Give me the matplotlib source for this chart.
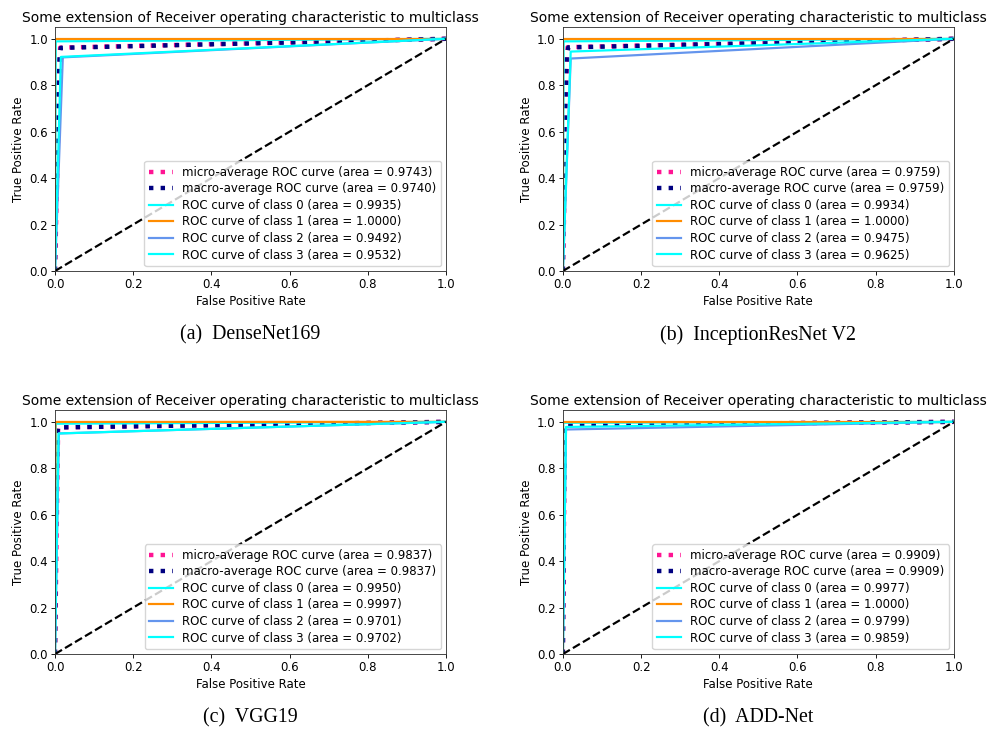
import matplotlib
matplotlib.use("Agg")
import matplotlib.pyplot as plt

# scale of the original notebook figures inside the page
S = 0.79
F = 0.85  # text scale

TITLE = "Some extension of Receiver operating characteristic to multiclass"
captions = ["(a)  DenseNet169", "(b)  InceptionResNet V2", "(c)  VGG19", "(d)  ADD-Net"]

# areas shown in the legends
micro_auc = [0.9743, 0.9759, 0.9837, 0.9909]
macro_auc = [0.9740, 0.9759, 0.9837, 0.9909]
class_auc = [
    [0.9935, 1.0000, 0.9492, 0.9532],
    [0.9934, 1.0000, 0.9475, 0.9625],
    [0.9950, 0.9997, 0.9701, 0.9702],
    [0.9977, 1.0000, 0.9799, 0.9859],
]

# ROC points (fpr, tpr) per panel
micro_fpr = [[0, 0.013, 1], [0, 0.012, 1], [0, 0.008, 1], [0, 0.005, 1]]
micro_tpr = [[0, 0.962, 1], [0, 0.964, 1], [0, 0.976, 1], [0, 0.987, 1]]
macro_fpr = [[0, 0.002, 0.012, 0.015, 1], [0, 0.002, 0.010, 0.014, 1],
             [0, 0.002, 0.006, 0.008, 1], [0, 0.002, 0.004, 0.005, 1]]
macro_tpr = [[0, 0.50, 0.93, 0.961, 1], [0, 0.50, 0.93, 0.963, 1],
             [0, 0.50, 0.95, 0.976, 1], [0, 0.50, 0.97, 0.987, 1]]
class_fpr = [
    [[0, 0.002, 1], [0, 0, 1], [0, 0.020, 1], [0, 0.015, 1]],
    [[0, 0.002, 1], [0, 0, 1], [0, 0.020, 1], [0, 0.020, 1]],
    [[0, 0.002, 1], [0, 0.001, 1], [0, 0.010, 1], [0, 0.009, 1]],
    [[0, 0.001, 1], [0, 0, 1], [0, 0.008, 1], [0, 0.008, 1]],
]
class_tpr = [
    [[0, 0.989, 1], [0, 1, 1], [0, 0.920, 1], [0, 0.922, 1]],
    [[0, 0.989, 1], [0, 1, 1], [0, 0.915, 1], [0, 0.945, 1]],
    [[0, 0.992, 1], [0, 0.9995, 1], [0, 0.950, 1], [0, 0.950, 1]],
    [[0, 0.996, 1], [0, 1, 1], [0, 0.967, 1], [0, 0.978, 1]],
]
class_colors = ["aqua", "darkorange", "cornflowerblue", "aqua"]

plt.rcParams.update({
    "font.size": 10 * F,
    "axes.linewidth": 0.8 * S,
    "axes.edgecolor": "#333333",
    "xtick.major.width": 0.8 * S,
    "ytick.major.width": 0.8 * S,
    "xtick.major.size": 3.5 * S,
    "ytick.major.size": 3.5 * S,
    "xtick.major.pad": 3.0 * S,
    "ytick.major.pad": 3.0 * S,
    "axes.labelpad": 3.5 * S,
})

fig = plt.figure(figsize=(9.91, 7.31), dpi=100)

# axes rectangles in figure fractions
lefts = [0.0555, 0.568, 0.0555, 0.568]
bottoms = [0.6293, 0.6293, 0.1053, 0.1053]
W, H = 0.3945, 0.3335
lw = 2 * S

for i in range(4):
    ax = fig.add_axes([lefts[i], bottoms[i], W, H])
    ax.plot(micro_fpr[i], micro_tpr[i], color="deeppink", linestyle=":", linewidth=4 * S,
            label="micro-average ROC curve (area = {0:0.4f})".format(micro_auc[i]))
    ax.plot(macro_fpr[i], macro_tpr[i], color="navy", linestyle=":", linewidth=4 * S,
            label="macro-average ROC curve (area = {0:0.4f})".format(macro_auc[i]))
    for k in range(4):
        ax.plot(class_fpr[i][k], class_tpr[i][k], color=class_colors[k], lw=lw,
                label="ROC curve of class {0} (area = {1:0.4f})".format(k, class_auc[i][k]))
    ax.plot([0, 1], [0, 1], "k--", lw=lw)
    ax.set_xlim([0.0, 1.0])
    ax.set_ylim([0.0, 1.05])
    ax.set_xlabel("False Positive Rate")
    ax.set_ylabel("True Positive Rate")
    ax.set_title(TITLE, fontsize=12 * 0.835, pad=4)
    ax.legend(loc="lower right", borderaxespad=0.4, labelspacing=0.3)

    cx = lefts[i] + W / 2
    cy = bottoms[i] - 0.088
    fig.text(cx, cy, captions[i], ha="center", va="center",
             family="Liberation Serif", fontsize=14.3)

fig.savefig("out.png", dpi=100)
